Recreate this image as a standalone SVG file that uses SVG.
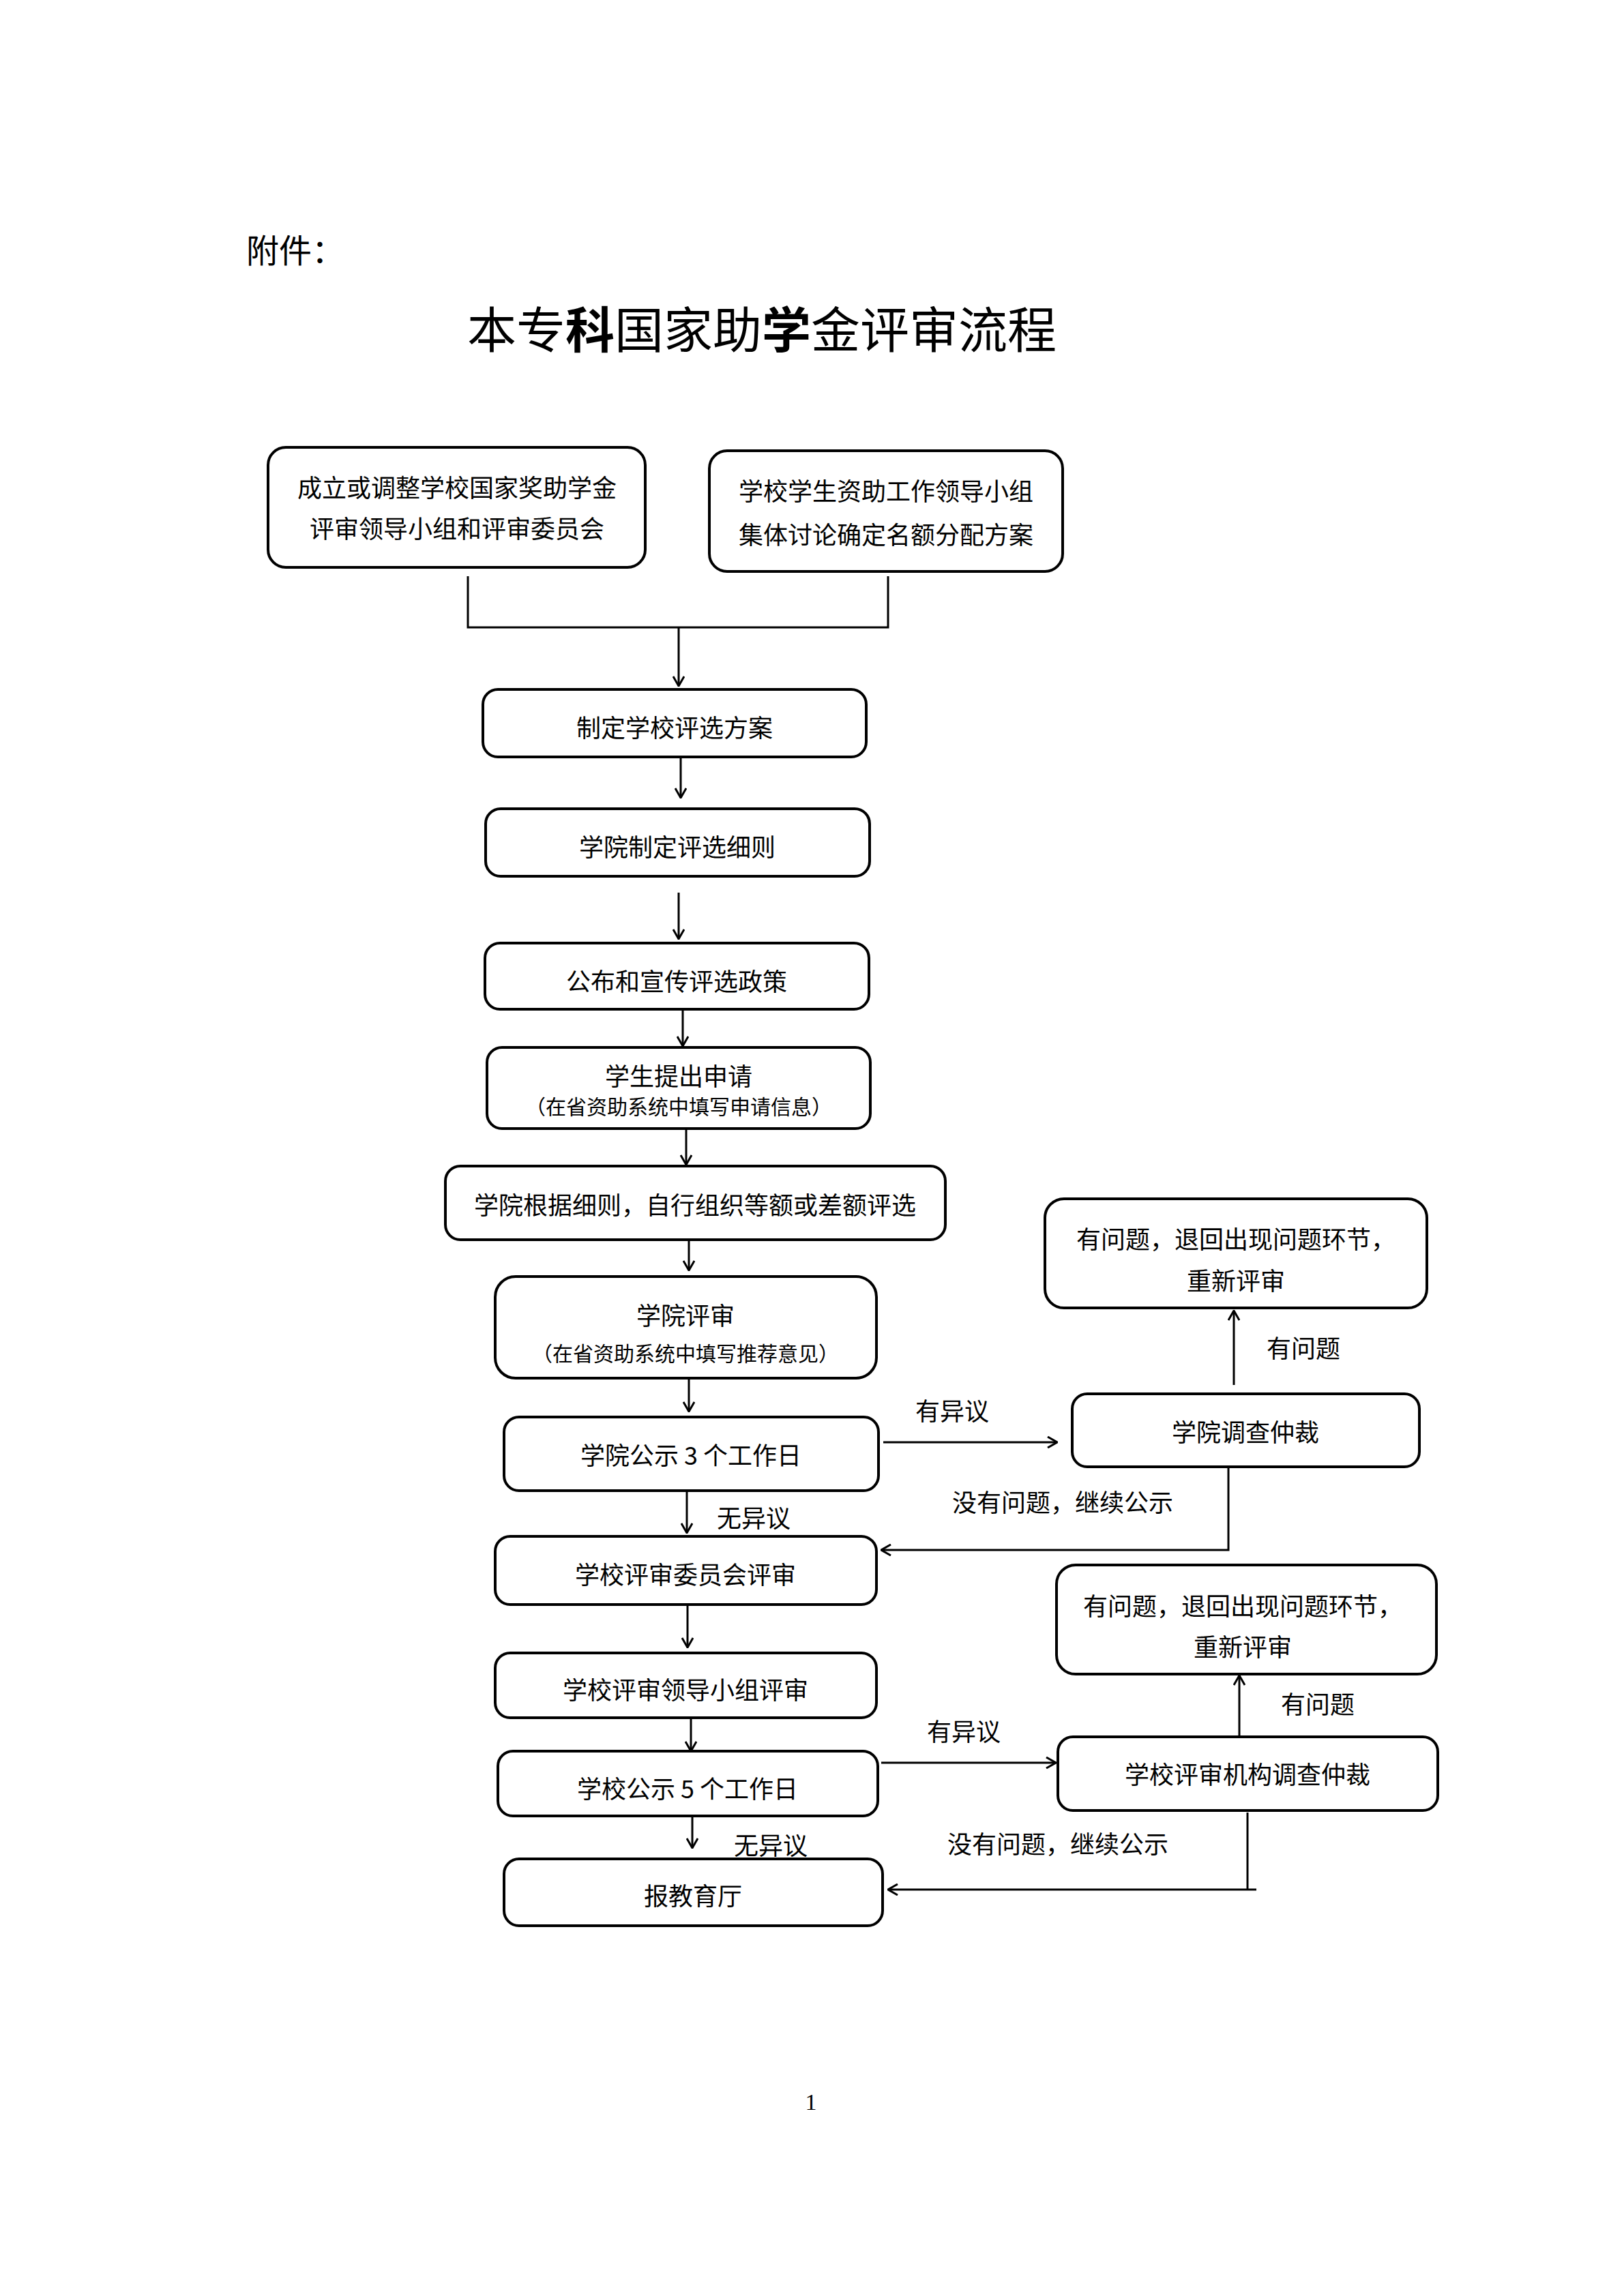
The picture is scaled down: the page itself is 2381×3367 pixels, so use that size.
<svg xmlns="http://www.w3.org/2000/svg" width="2381" height="3367" viewBox="0 0 2381 3367">
<defs>
<marker id="arr" viewBox="0 0 16 18" refX="15" refY="9" markerWidth="16" markerHeight="18" markerUnits="userSpaceOnUse" orient="auto">
<path d="M1,1 L15,9 L1,17" fill="none" stroke="#000" stroke-width="3"/>
</marker>
<style>
.box{fill:#fff;stroke:#000;stroke-width:4}
.t{font-family:"Noto Sans CJK SC","Noto Sans",sans-serif;font-size:36px;fill:#000;text-anchor:middle;dominant-baseline:central}
.s{font-size:30px}
.l{text-anchor:start}
.c{fill:none;stroke:#000;stroke-width:3}
.a{marker-end:url(#arr)}
</style>
</defs>
<rect width="2381" height="3367" fill="#fff"/>
<text x="361" y="364" class="t l" style="font-size:48px">附件：</text>
<text x="1117" y="478" class="t" style="font-size:72px">本专<tspan font-weight="bold">科</tspan>国家助<tspan font-weight="bold">学</tspan>金评审流程</text>

<g id="connectors">
<path class="c" d="M686,845 V920 H1302 V845"/>
<path class="c a" d="M995,920 V1006"/>
<path class="c a" d="M998,1110 V1170"/>
<path class="c a" d="M995,1309 V1377"/>
<path class="c a" d="M1001,1480 V1534"/>
<path class="c a" d="M1006,1655 V1708"/>
<path class="c a" d="M1010,1818 V1863"/>
<path class="c a" d="M1010,2021 V2070"/>
<path class="c a" d="M1007,2186 V2248"/>
<path class="c a" d="M1008,2353 V2416"/>
<path class="c a" d="M1013,2519 V2568"/>
<path class="c a" d="M1015,2663 V2710"/>
<path class="c a" d="M1295,2115 H1550"/>
<path class="c a" d="M1809,2031 V1922"/>
<path class="c a" d="M1801,2153 V2273 H1292"/>
<path class="c a" d="M1292,2585 H1548"/>
<path class="c a" d="M1817,2545 V2457"/>
<path class="c" d="M1829,2658 V2771"/>
<path class="c a" d="M1842,2771 H1302"/>
<text x="1396" y="2067" class="t">有异议</text>
<text x="1911" y="1975" class="t">有问题</text>
<text x="1396" y="2201" class="t l">没有问题，继续公示</text>
<text x="1105" y="2224" class="t">无异议</text>
<text x="1413" y="2537" class="t">有异议</text>
<text x="1932" y="2497" class="t">有问题</text>
<text x="1389" y="2702" class="t l">没有问题，继续公示</text>
<text x="1130" y="2704" class="t">无异议</text>
</g>

<g id="n1"><rect class="box" x="393" y="656" width="553" height="176" rx="26"/>
<text x="670" y="713" class="t">成立或调整学校国家奖助学金</text>
<text x="670" y="773" class="t">评审领导小组和评审委员会</text></g>
<g id="n2"><rect class="box" x="1040" y="661" width="518" height="177" rx="26"/>
<text x="1299" y="718" class="t">学校学生资助工作领导小组</text>
<text x="1299" y="782" class="t">集体讨论确定名额分配方案</text></g>
<g id="n3"><rect class="box" x="708" y="1011" width="562" height="99" rx="22"/>
<text x="989" y="1065" class="t">制定学校评选方案</text></g>
<g id="n4"><rect class="box" x="712" y="1186" width="563" height="99" rx="22"/>
<text x="993" y="1240" class="t">学院制定评选细则</text></g>
<g id="n5"><rect class="box" x="711" y="1383" width="563" height="97" rx="22"/>
<text x="992" y="1437" class="t">公布和宣传评选政策</text></g>
<g id="n6"><rect class="box" x="714" y="1536" width="562" height="119" rx="22"/>
<text x="995" y="1576" class="t">学生提出申请</text>
<text x="995" y="1621" class="t s">（在省资助系统中填写申请信息）</text></g>
<g id="n7"><rect class="box" x="653" y="1710" width="733" height="108" rx="22"/>
<text x="1019" y="1765" class="t">学院根据细则，自行组织等额或差额评选</text></g>
<g id="n8"><rect class="box" x="726" y="1872" width="559" height="149" rx="30"/>
<text x="1005" y="1927" class="t">学院评审</text>
<text x="1005" y="1983" class="t s">（在省资助系统中填写推荐意见）</text></g>
<g id="n9"><rect class="box" x="739" y="2078" width="549" height="108" rx="22"/>
<text x="1013" y="2132" class="t">学院公示 3 个工作日</text></g>
<g id="n10"><rect class="box" x="726" y="2253" width="559" height="100" rx="22"/>
<text x="1005" y="2307" class="t">学校评审委员会评审</text></g>
<g id="n11"><rect class="box" x="726" y="2424" width="559" height="95" rx="22"/>
<text x="1005" y="2476" class="t">学校评审领导小组评审</text></g>
<g id="n12"><rect class="box" x="730" y="2568" width="557" height="95" rx="22"/>
<text x="1008" y="2621" class="t">学校公示 5 个工作日</text></g>
<g id="n13"><rect class="box" x="739" y="2726" width="555" height="98" rx="22"/>
<text x="1016" y="2778" class="t">报教育厅</text></g>
<g id="nA"><rect class="box" x="1532" y="1758" width="560" height="160" rx="28"/>
<text x="1812" y="1815" class="t">有问题，退回出现问题环节，</text>
<text x="1812" y="1876" class="t">重新评审</text></g>
<g id="nB"><rect class="box" x="1572" y="2044" width="509" height="107" rx="22"/>
<text x="1826" y="2098" class="t">学院调查仲裁</text></g>
<g id="nC"><rect class="box" x="1549" y="2295" width="557" height="160" rx="28"/>
<text x="1822" y="2353" class="t">有问题，退回出现问题环节，</text>
<text x="1822" y="2413" class="t">重新评审</text></g>
<g id="nD"><rect class="box" x="1551" y="2547" width="557" height="108" rx="22"/>
<text x="1829" y="2600" class="t">学校评审机构调查仲裁</text></g>
<text x="1189" y="3094" style="font-family:'Liberation Serif',serif;font-size:34px" text-anchor="middle">1</text>
</svg>
